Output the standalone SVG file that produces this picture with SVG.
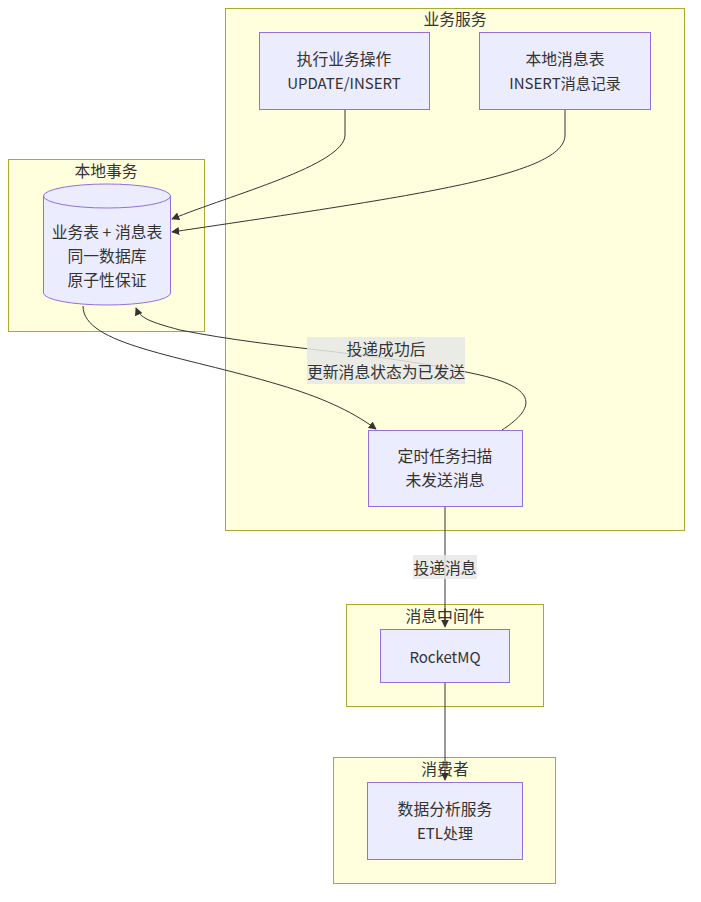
<svg xmlns="http://www.w3.org/2000/svg" width="701" height="902" viewBox="0 0 701 902">
<style>
text{font-family:"Noto Sans CJK SC","Liberation Sans",sans-serif;font-size:15.8px;fill:#333;text-anchor:middle;dominant-baseline:central}
text.lt{font-size:15px}
.cl{fill:#ffffde;stroke:#aaaa33;stroke-width:1}
.nd{fill:#ececff;stroke:#9370db;stroke-width:1}
.ed{fill:none;stroke:#333;stroke-width:1}
.lb{fill:#e8e8e8;opacity:0.85}
</style>
<defs>
<marker id="ah" viewBox="0 0 10 10" refX="9" refY="5" markerWidth="8" markerHeight="8" markerUnits="userSpaceOnUse" orient="auto">
<path d="M0,0 L10,5 L0,10 z" fill="#333"/>
</marker>
</defs>
<g id="cluster-service">
<rect class="cl" x="225.5" y="8.5" width="459" height="522"/>
<text x="455" y="18">业务服务</text>
</g>
<g id="cluster-tx">
<rect class="cl" x="8.5" y="159.5" width="196" height="172"/>
<text x="106" y="170">本地事务</text>
</g>
<g id="cluster-mq">
<rect class="cl" x="346.5" y="604.5" width="197" height="102"/>
<text x="445" y="615">消息中间件</text>
</g>
<g id="cluster-consumer">
<rect class="cl" x="333.5" y="757.5" width="222" height="126"/>
<text x="445" y="768">消费者</text>
</g>
<g id="connectors">
<path class="ed" d="M345,109 L345,135 C345,165 230,195 172,219" marker-end="url(#ah)"/>
<path class="ed" d="M565,109 L565,135 C565,175 420,195 172,232" marker-end="url(#ah)"/>
<path class="ed" d="M83,306 C83,345 180,355 280,385 C320,397 350,410 376,429" marker-end="url(#ah)"/>
<path class="ed" d="M502,430 C530,412 545,390 480,375 C380,352 280,350 180,330 C150,322 140,318 136,308" marker-end="url(#ah)"/>
<path class="ed" d="M445,507 L445,627" marker-end="url(#ah)"/>
<path class="ed" d="M445,683 L445,780" marker-end="url(#ah)"/>
<rect class="lb" x="307" y="337" width="158" height="47"/>
<text x="386" y="348">投递成功后</text>
<text x="386" y="371">更新消息状态为已发送</text>
<rect class="lb" x="413" y="555" width="64" height="24"/>
<text x="445" y="567">投递消息</text>
</g>
<g id="node-exec">
<rect class="nd" x="259.5" y="32.5" width="170" height="77"/>
<text x="344" y="58">执行业务操作</text>
<text class="lt" x="344" y="82">UPDATE/INSERT</text>
</g>
<g id="node-localmsg">
<rect class="nd" x="479.5" y="32.5" width="171" height="77"/>
<text x="565" y="58">本地消息表</text>
<text class="lt" x="565" y="82">INSERT消息记录</text>
</g>
<g id="node-db">
<path class="nd" d="M43.5,196 L43.5,293 A63.5,12 0 0 0 170.5,293 L170.5,196 A63.5,12 0 0 0 43.5,196 A63.5,12 0 0 0 170.5,196"/>
<text x="107" y="231">业务表 + 消息表</text>
<text x="107" y="255">同一数据库</text>
<text x="107" y="279">原子性保证</text>
</g>
<g id="node-scan">
<rect class="nd" x="368.5" y="430.5" width="154" height="76"/>
<text x="445" y="455">定时任务扫描</text>
<text x="445" y="479">未发送消息</text>
</g>
<g id="node-rocketmq">
<rect class="nd" x="380.5" y="629.5" width="129" height="53"/>
<text class="lt" x="445" y="656">RocketMQ</text>
</g>
<g id="node-etl">
<rect class="nd" x="367.5" y="782.5" width="155" height="77"/>
<text x="445" y="808">数据分析服务</text>
<text class="lt" x="445" y="832">ETL处理</text>
</g>
</svg>
